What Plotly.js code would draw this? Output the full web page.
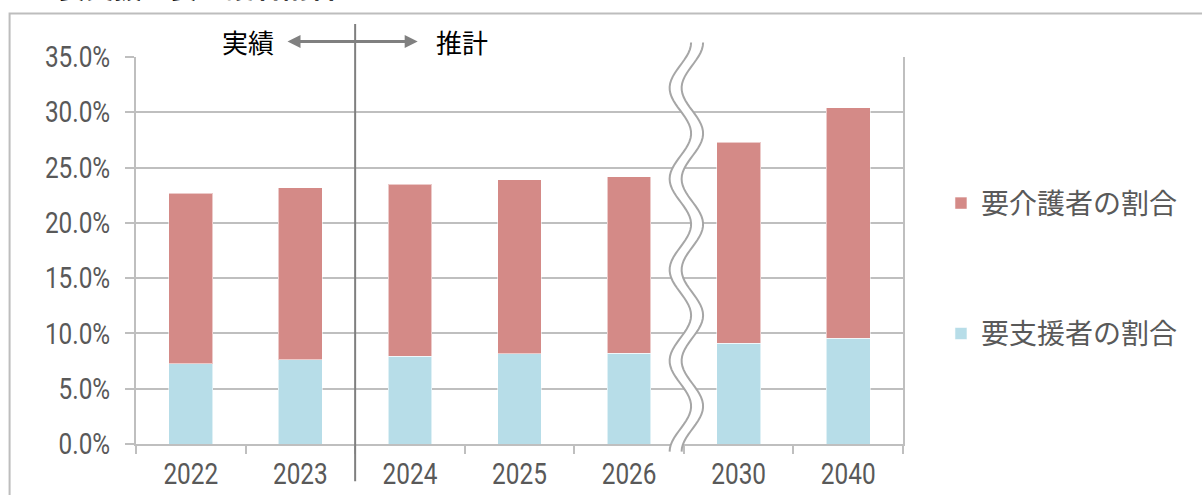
<!DOCTYPE html>
<html>
<head>
<meta charset="utf-8">
<script src="https://cdn.plot.ly/plotly-3.0.1.min.js"></script>
<style>
html,body{margin:0;padding:0;background:#fff;}
#chart{width:1202px;height:495px;}
</style>
</head>
<body>
<div id="chart"></div>
<script>
// ---- data ----
const years = ['2022', '2023', '2024', '2025', '2026', '2030', '2040'];
const supportShare = [7.27, 7.60, 7.93, 8.14, 8.20, 9.10, 9.56];   // 要支援者の割合 (%)
const careShare    = [15.39, 15.57, 15.57, 15.78, 15.99, 18.19, 20.86]; // 要介護者の割合 (%)
const yTickVals = [0, 5, 10, 15, 20, 25, 30, 35];
const yTickText = ['0.0%', '5.0%', '10.0%', '15.0%', '20.0%', '25.0%', '30.0%', '35.0%'];
const seriesNames = ['要支援者の割合', '要介護者の割合'];
const headerLabels = ['実績', '推計'];
const titleText = '【要支援・要介護者割合】';

// ---- layout geometry ----
const W = 1202, H = 495;
const M = {l: 135.5, r: 299, t: 56.5, b: 51.2};
const plotW = W - M.l - M.r, plotH = H - M.t - M.b;
const yMax = 35;
const nCat = years.length;
const xi = idx => (idx + 0.5) / nCat;           // category index -> paper
const xpx = dx => dx / plotW;                    // pixel offset -> paper
const ypx = dy => dy / plotH;

const tickFont = {family: 'Roboto, "Noto Sans", sans-serif', size: 29, color: '#595959'};
const jpFont = '"Noto Sans CJK JP", "Noto Sans", sans-serif';

const traces = [
  {
    type: 'bar', name: seriesNames[0], x: years, y: supportShare,
    marker: {color: '#B7DDE8', line: {color: 'rgba(255,255,255,0.55)', width: 1}},
    legendgroup: 'g1', legendrank: 2, hoverinfo: 'x+y'
  },
  {
    type: 'bar', name: seriesNames[1], x: years, y: careShare,
    marker: {color: '#D48A87', line: {color: 'rgba(255,255,255,0.55)', width: 1}},
    legendgroup: 'g2', legendrank: 1, hoverinfo: 'x+y'
  }
];

// ---- decorations ----
const shapes = [];
shapes.push({type: 'rect', xref: 'paper', yref: 'paper',
  x0: xpx(9 - M.l), x1: xpx(1215 - M.l), y0: -ypx(80), y1: 1 + ypx(M.t - 13),
  line: {color: '#BDBDBD', width: 2}, fillcolor: 'rgba(0,0,0,0)', layer: 'below'});

const divX = xi(1.5);
shapes.push({type: 'line', xref: 'paper', yref: 'paper',
  x0: divX, x1: divX, y0: -ypx(481 - (H - M.b)), y1: 1 + ypx(M.t - 23.5),
  line: {color: '#7F7F7F', width: 2}});

const arrY = 1 + ypx(M.t - 41);
const arrL = divX - xpx(354.4 - 286.7), arrR = divX + xpx(417 - 354.4);
const headL = xpx(13), headH = ypx(6.5);
shapes.push({type: 'line', xref: 'paper', yref: 'paper',
  x0: arrL + headL * 0.8, x1: arrR - headL * 0.8, y0: arrY, y1: arrY,
  line: {color: '#808080', width: 3}});
shapes.push({type: 'path', xref: 'paper', yref: 'paper',
  path: `M${arrL},${arrY} L${arrL + headL},${arrY + headH} L${arrL + headL},${arrY - headH} Z`,
  fillcolor: '#808080', line: {color: '#808080', width: 0}});
shapes.push({type: 'path', xref: 'paper', yref: 'paper',
  path: `M${arrR},${arrY} L${arrR - headL},${arrY + headH} L${arrR - headL},${arrY - headH} Z`,
  fillcolor: '#808080', line: {color: '#808080', width: 0}});

// wavy break mark between 2026 and 2030
(function () {
  const cx = xi(4.5) + xpx(2.5);
  const amp = xpx(10.75), half = xpx(6);
  const topPx = 42, period = 91, nPer = 4.5;
  const steps = 120;
  const left = [], right = [];
  for (let i = 0; i <= steps; i++) {
    const py = topPx + (period * nPer) * i / steps;
    const c = cx + amp * Math.cos(2 * Math.PI * (py - topPx) / period);
    const yp = 1 + ypx(M.t - py);
    left.push([c - half, yp]);
    right.push([c + half, yp]);
  }
  const toPath = pts => pts.map((p, i) => (i ? 'L' : 'M') + p[0].toFixed(5) + ',' + p[1].toFixed(5)).join(' ');
  const band = toPath(left) + ' ' + right.slice().reverse().map(p => 'L' + p[0].toFixed(5) + ',' + p[1].toFixed(5)).join(' ') + ' Z';
  shapes.push({type: 'path', xref: 'paper', yref: 'paper', path: band,
    fillcolor: '#FFFFFF', line: {width: 0}});
  shapes.push({type: 'path', xref: 'paper', yref: 'paper', path: toPath(left),
    line: {color: '#A6A6A6', width: 2}});
  shapes.push({type: 'path', xref: 'paper', yref: 'paper', path: toPath(right),
    line: {color: '#A6A6A6', width: 2}});
})();

const annotations = [
  {xref: 'paper', yref: 'paper', x: xi(1.5) - xpx(354.4 - 247), y: 1 + ypx(M.t - 41),
   text: headerLabels[0], showarrow: false, xanchor: 'center', yanchor: 'middle',
   font: {family: jpFont, size: 26, color: '#000000'}},
  {xref: 'paper', yref: 'paper', x: xi(1.5) + xpx(461.5 - 354.4), y: 1 + ypx(M.t - 41),
   text: headerLabels[1], showarrow: false, xanchor: 'center', yanchor: 'middle',
   font: {family: jpFont, size: 26, color: '#000000'}},
  {xref: 'paper', yref: 'paper', x: xpx(198 - M.l), y: 1 + ypx(M.t + 15),
   text: titleText, showarrow: false, xanchor: 'center', yanchor: 'middle',
   font: {family: jpFont, size: 28, color: '#000000', weight: 'bold'}}
];

const layout = {
  width: W, height: H,
  margin: {l: M.l, r: M.r, t: M.t, b: M.b, pad: 0},
  paper_bgcolor: '#FFFFFF', plot_bgcolor: '#FFFFFF',
  barmode: 'stack', bargap: 0.6,
  showlegend: true,
  legend: {
    x: 1 + xpx(941 - (W - M.r)), xanchor: 'left',
    y: 1 - ypx(178 - M.t), yanchor: 'top',
    traceorder: 'grouped', tracegroupgap: 91,
    font: {family: jpFont, size: 28, color: '#595959'},
    bgcolor: 'rgba(0,0,0,0)', borderwidth: 0, itemwidth: 30
  },
  xaxis: {
    type: 'category', showgrid: false, zeroline: false,
    showline: true, linecolor: '#BFBFBF', linewidth: 2, mirror: false,
    ticks: 'outside', tickson: 'boundaries', ticklen: 8, tickwidth: 2, tickcolor: '#BFBFBF',
    tickfont: tickFont, ticklabelstandoff: 3, fixedrange: true
  },
  yaxis: {
    range: [0, yMax], tickmode: 'array', tickvals: yTickVals, ticktext: yTickText,
    showgrid: true, gridcolor: '#BFBFBF', gridwidth: 2, zeroline: false,
    showline: true, linecolor: '#BFBFBF', linewidth: 2, mirror: true,
    ticks: 'outside', ticklen: 9, tickwidth: 2, tickcolor: '#BFBFBF',
    tickfont: tickFont, ticklabelstandoff: 9, fixedrange: true
  },
  shapes: shapes,
  annotations: annotations
};

Plotly.newPlot('chart', traces, layout, {displayModeBar: false, staticPlot: true}).then(function (gd) {
  // the reference uses a tall, narrow face for numbers: condense the tick labels
  gd.querySelectorAll('.xtick text, .ytick text').forEach(function (t) {
    const w = t.getComputedTextLength();
    if (w > 0) {
      t.setAttribute('textLength', (w * 0.84).toFixed(1));
      t.setAttribute('lengthAdjust', 'spacingAndGlyphs');
    }
  });
});
</script>
</body>
</html>
